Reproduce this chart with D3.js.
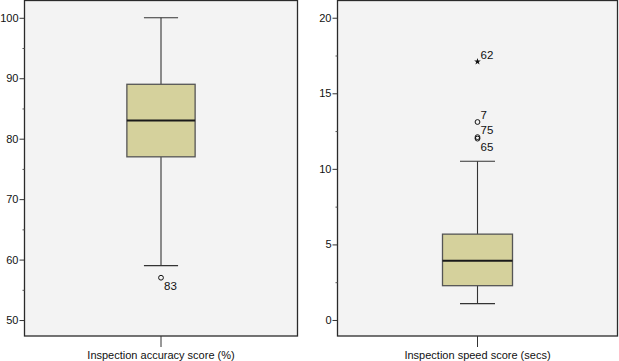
<!DOCTYPE html>
<html>
<head>
<meta charset="utf-8">
<script src="https://cdn.jsdelivr.net/npm/d3@7"></script>
<style>
  body { margin: 0; background: #fff; }
  text { font-family: "Liberation Sans", Arial, sans-serif; fill: #111; }
</style>
</head>
<body>
<script>
// box plot summaries
var variables = ["Inspection accuracy score (%)", "Inspection speed score (secs)"]
var whiskerLow = [59, 1.08]
var q1 = [77, 2.27]
var median = [83, 3.92]
var q3 = [89, 5.68]
var whiskerHigh = [100, 10.5]

// outliers: case number, value, kind (o = outlier, * = extreme)
var accuracyOutliers = [{id: "83", value: 57, kind: "o", side: "below"}]
var speedOutliers = [
  {id: "62", value: 17.1, kind: "*", side: "above"},
  {id: "7", value: 13.1, kind: "o", side: "above"},
  {id: "75", value: 12.1, kind: "o", side: "above"},
  {id: "65", value: 12.0, kind: "o", side: "below"}
]
var outliers = [accuracyOutliers, speedOutliers]

// axis ticks
var majorTicks = [[50, 60, 70, 80, 90, 100], [0, 5, 10, 15, 20]]
var minorTicks = [[55, 65, 75, 85, 95], [2.5, 7.5, 12.5, 17.5]]
var yDomains = [[47.36, 102.86], [-1.06, 21.14]]

var width = 619, height = 361
var panelTop = 0.5, panelBottom = 336
var panelX = [[24.5, 297.5], [337.5, 617.5]]

var svg = d3.select("body").append("svg")
  .attr("width", width)
  .attr("height", height)

variables.forEach(function(name, i) {

  var x = d3.scaleBand()
    .domain([name])
    .range(panelX[i])
    .padding(0.6)

  var y = d3.scaleLinear()
    .domain(yDomains[i])
    .range([panelBottom, panelTop])

  var g = svg.append("g")

  // panel background and frame
  g.append("rect")
    .attr("x", panelX[i][0])
    .attr("y", panelTop)
    .attr("width", panelX[i][1] - panelX[i][0])
    .attr("height", panelBottom - panelTop)
    .attr("fill", "#f3f3f3")
    .attr("stroke", "#2a2a2a")
    .attr("stroke-width", 1.3)

  // y axis, major and minor ticks
  var yAxis = d3.axisLeft(y).tickValues(majorTicks[i]).tickSize(5).tickPadding(1)
  var ya = g.append("g")
    .attr("transform", "translate(" + panelX[i][0] + ",0)")
    .call(yAxis)
  ya.select(".domain").remove()
  ya.selectAll("line").attr("stroke", "#333")
  ya.selectAll("text").style("font-size", "11px").attr("fill", "#111")

  var ym = g.append("g")
    .attr("transform", "translate(" + panelX[i][0] + ",0)")
    .call(d3.axisLeft(y).tickValues(minorTicks[i]).tickSize(2).tickFormat(""))
  ym.select(".domain").remove()
  ym.selectAll("line").attr("stroke", "#555")

  // x axis with the variable name
  var xa = g.append("g")
    .attr("transform", "translate(0," + panelBottom + ")")
    .call(d3.axisBottom(x).tickSize(11).tickPadding(4))
  xa.select(".domain").remove()
  xa.selectAll("line").attr("stroke", "#333").attr("transform", "translate(" + (x.bandwidth() / 2) + ",0)")
  xa.selectAll(".tick").attr("transform", function(d) { return "translate(" + x(d) + ",0)" })
  xa.selectAll("text").style("font-size", "11px").attr("fill", "#111")
    .attr("x", x.bandwidth() / 2)

  var cx = x(name) + x.bandwidth() / 2
  var bw = x.bandwidth()

  // whiskers
  g.append("line")
    .attr("x1", cx).attr("x2", cx)
    .attr("y1", y(whiskerHigh[i])).attr("y2", y(q3[i]))
    .attr("stroke", "#333").attr("stroke-width", 1.1)
  g.append("line")
    .attr("x1", cx).attr("x2", cx)
    .attr("y1", y(q1[i])).attr("y2", y(whiskerLow[i]))
    .attr("stroke", "#333").attr("stroke-width", 1.1)
  ;[whiskerHigh[i], whiskerLow[i]].forEach(function(v) {
    g.append("line")
      .attr("x1", cx - bw / 4).attr("x2", cx + bw / 4)
      .attr("y1", y(v)).attr("y2", y(v))
      .attr("stroke", "#333").attr("stroke-width", 1.1)
  })

  // box
  g.append("rect")
    .attr("x", x(name))
    .attr("y", y(q3[i]))
    .attr("width", bw)
    .attr("height", y(q1[i]) - y(q3[i]))
    .attr("fill", "#d5d19c")
    .attr("stroke", "#555")
    .attr("stroke-width", 1.3)

  g.append("line")
    .attr("x1", x(name)).attr("x2", x(name) + bw)
    .attr("y1", y(median[i])).attr("y2", y(median[i]))
    .attr("stroke", "#1a1a1a").attr("stroke-width", 2)

  // outliers
  var star = d3.symbol().type(d3.symbolStar).size(14)
  outliers[i].forEach(function(o) {
    var oy = y(o.value)
    if (o.kind == "*") {
      g.append("path")
        .attr("d", star)
        .attr("transform", "translate(" + cx + "," + oy + ")")
        .attr("fill", "#111")
    } else {
      g.append("circle")
        .attr("cx", cx).attr("cy", oy).attr("r", 2.4)
        .attr("fill", "none").attr("stroke", "#111").attr("stroke-width", 1)
    }
    g.append("text")
      .attr("x", cx + 3)
      .attr("y", oy + (o.side == "above" ? -7 : 8))
      .attr("dy", "0.35em")
      .style("font-size", "11.5px")
      .text(o.id)
  })
})
</script>
</body>
</html>
